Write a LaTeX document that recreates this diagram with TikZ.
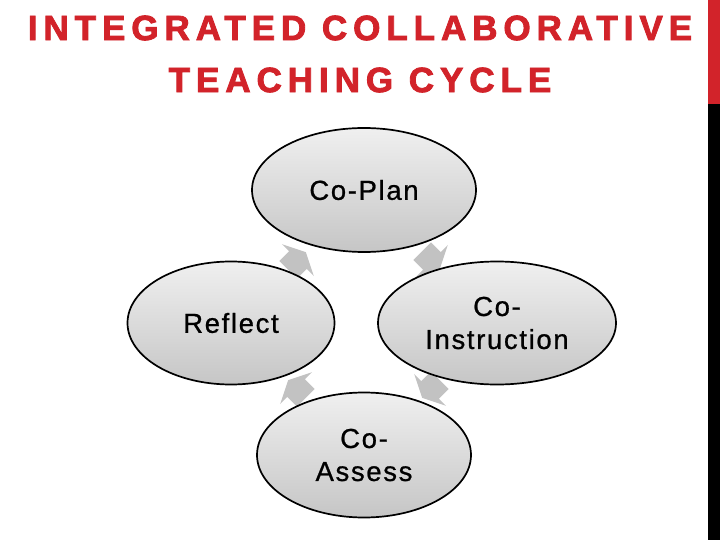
\documentclass[tikz,border=0pt]{standalone}
\usepackage{fontspec}
\setmainfont{Liberation Sans}
\usepackage{tikz}
\usetikzlibrary{shapes.geometric}
\definecolor{titlered}{RGB}{210,35,42}
\newfontfamily\titlefont[LetterSpace=17,FakeBold=2.4]{Liberation Sans Bold}
\newfontfamily\stagefont[LetterSpace=6,FakeBold=0.8]{Liberation Sans}

\begin{document}
\begin{tikzpicture}[x=1pt,y=-1pt,
    stage/.style={ellipse,draw=black,line width=1.7pt,top color=gray!12,bottom color=gray!45,
        inner sep=0pt,align=center,font=\stagefont\fontsize{27.5}{33}\selectfont},
    cyclearrow/.style={fill=gray!48,draw=none}]
            \useasboundingbox (0,0) rectangle (720,540);
            \fill[white] (0,0) rectangle (720,540);

            \node[text=titlered,align=center,font=\titlefont\fontsize{35}{52}\selectfont] (title) at (360,54)
                {INTEGRATED COLLABORATIVE\\TEACHING CYCLE};

            \fill[titlered] (708,0) rectangle (720,104);
            \fill[black] (708,104) rectangle (720,540);

            \fill [cyclearrow,shift={(297,261)},rotate=45,scale=1.25] (-10,-10) -- (1,-10) -- (1,-18) -- (10,0) -- (1,18) -- (1,10) -- (-10,10) -- cycle;
            \fill [cyclearrow,shift={(431,260)},rotate=-45,scale=1.25] (-10,-10) -- (1,-10) -- (1,-18) -- (10,0) -- (1,18) -- (1,10) -- (-10,10) -- cycle;
            \fill [cyclearrow,shift={(431,389)},rotate=-135,scale=1.25] (-10,-10) -- (1,-10) -- (1,-18) -- (10,0) -- (1,18) -- (1,10) -- (-10,10) -- cycle;
            \fill [cyclearrow,shift={(297,389)},rotate=135,scale=1.25] (-10,-10) -- (1,-10) -- (1,-18) -- (10,0) -- (1,18) -- (1,10) -- (-10,10) -- cycle;

            \node[stage,minimum width=224pt,minimum height=124pt] (plan) at (364,190) {Co-Plan};
            \node[stage,minimum width=207pt,minimum height=123pt] (reflect) at (231,323) {Reflect};
            \node[stage,minimum width=238pt,minimum height=123pt] (instr) at (497,323) {Co-\\Instruction};
            \node[stage,minimum width=214pt,minimum height=125pt] (assess) at (364,455) {Co-\\Assess};
        \end{tikzpicture}
\end{document}
